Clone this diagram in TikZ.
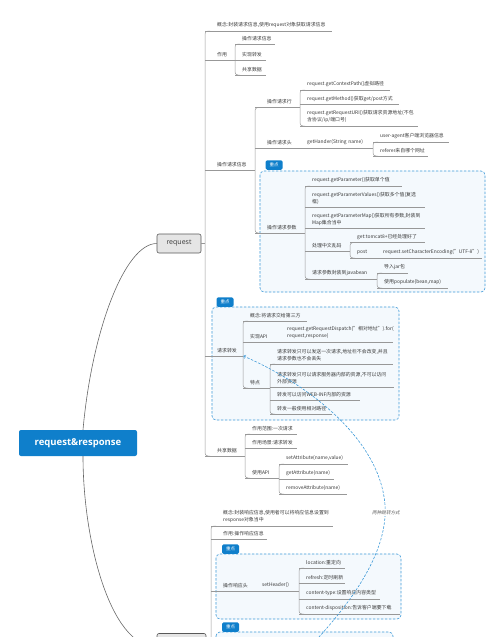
\documentclass[tikz,border=0pt]{standalone}
\usepackage{fontspec}
\setmainfont{Noto Sans CJK SC}
\newfontfamily\hdfont{Open Sans}
\newfontfamily\slfont[FakeSlant=0.2]{Noto Sans CJK SC}
\definecolor{ink}{HTML}{3A3A3A}
\definecolor{linegray}{HTML}{989898}
\definecolor{mapblue}{HTML}{0F7FCB}
\definecolor{boxblue}{HTML}{3C99D8}
\definecolor{boxfill}{HTML}{F4F9FD}
\tikzset{
  topic/.style={anchor=south west,align=left,text width=#1pt,inner xsep=7pt,inner ysep=3pt,text=ink,
    font=\fontsize{4.9}{7}\selectfont,
    execute at begin node={\hyphenpenalty=10000\relax\exhyphenpenalty=10000\relax}},
  ind/.style={inner xsep=12pt},
  link/.style={draw=linegray,line width=0.5pt},
  branch/.style={draw=black!65,fill=black!10,rounded corners=2pt,line width=0.6pt,inner sep=0pt,
    minimum height=19pt,text=ink,font=\hdfont\fontsize{7}{8}\selectfont},
  keybox/.style={draw=boxblue,dash pattern=on 2.5pt off 1.5pt,line width=0.6pt,fill=boxfill,rounded corners=4pt},
  keytag/.style={fill=mapblue,text=white,rounded corners=1.5pt,inner sep=0pt,minimum width=17pt,minimum height=9.5pt,
    font=\fontsize{4.5}{5}\selectfont},
  relation/.style={draw=boxblue,dash pattern=on 2.5pt off 1.5pt,line width=0.6pt,->}
}
\begin{document}
\begin{tikzpicture}[x=1pt,y=-1pt]
\useasboundingbox (0,0) rectangle (500,637);
\draw[keybox] (260,171) rectangle (485,292);
\draw[keybox] (212,307) rectangle (399,420);
\draw[keybox] (216,554) rectangle (401,619);
\draw[keybox] (216,632) rectangle (393,700);
\node[keytag] (tagParam) at (274,165) {重点};
\node[keytag] (tagFwd) at (225,302) {重点};
\node[keytag] (tagHead) at (230.5,549) {重点};
\node[keytag] (tagNext) at (230.5,627) {重点};

\node[fill=mapblue,rounded corners=2pt,minimum width=118pt,minimum height=26pt,text=white,
  font=\hdfont\bfseries\fontsize{9.5}{11}\selectfont] (root) at (78,443) {request\&response};
\node[branch,minimum width=44pt] (req) at (179,243.5) {request};
\node[branch,minimum width=49pt,minimum height=27pt] (rsp) at (181.5,647) {response};

\node[topic=103,ind] (rqIdea) at (205,31) {概念:封装请求信息,使用request对象获取请求信息};
\node[topic=6,ind] (rqUse) at (205,60.5) {作用};
\node[topic=26,ind] (rqOp) at (205,170) {操作请求信息};
\node[topic=14,ind] (rqFwd) at (205,356) {请求转发};
\node[topic=16,ind] (rqShare) at (205,456) {共享数据};

\node[topic=26] (rqUseA) at (235,44) {操作请求信息};
\node[topic=17] (rqUseB) at (235,60.5) {实现转发};
\node[topic=17] (rqUseC) at (235,75) {共享数据};

\node[topic=21,ind] (rqLine) at (255,107.5) {操作请求行};
\node[topic=21,ind] (rqHead) at (255,148) {操作请求头};
\node[topic=26,ind] (rqParam) at (255,233) {操作请求参数};

\node[topic=76] (rqPath) at (300,90) {request.getContextPath()虚拟路径};
\node[topic=85] (rqMethod) at (300,104.5) {request.getMethod()获取get/post方式};
\node[topic=104] (rqURI) at (300,126) {request.getRequestURI()获取请求资源地址(不包\\含协议/ip/端口号)};
\node[topic=59] (rqHeadGet) at (300,148) {getHander(String~name)};
\node[topic=62] (rqAgent) at (373,142) {user-agent客户端浏览器信息};
\node[topic=41] (rqRef) at (373,156) {referer来自哪个网址};

\node[topic=83] (rqP1) at (305,186) {request.getParameter()获取单个值};
\node[topic=106] (rqP2) at (305,207.5) {request.getParameterValues()获取多个值(复选\\框)};
\node[topic=106] (rqP3) at (305,228.5) {request.getParameterMap()获取所有参数,封装到\\Map集合当中};
\node[topic=31] (rqCode) at (305,251) {处理中文乱码};
\node[topic=58] (rqBean) at (305,279) {请求参数封装到javabean};
\node[topic=61] (rqGet) at (350,242.5) {get:tomcat8+已经处理好了};
\node[topic=12] (rqPost) at (350,258) {post};
\node[topic=92] (rqEnc) at (376,258) {request.setCharacterEncoding("UTF-8")};
\node[topic=17] (rqJar) at (377,273) {导入jar包};
\node[topic=57] (rqPop) at (377,288) {使用populate(bean,map)};

\node[topic=50] (fwdIdea) at (243,321) {概念:将请求交给第三方};
\node[topic=23] (fwdApi) at (243,342) {实现API};
\node[topic=99] (fwdApiTxt) at (280,342) {request.getRequestDispatch("相对地址").for(\\request,response)};
\node[topic=13] (fwdChar) at (243,388) {特点};
\node[topic=109] (fwdC1) at (270,364) {请求转发只可以发送一次请求,地址栏不会改变,并且\\请求参数也不会丢失};
\node[topic=110] (fwdC2) at (270,387.5) {请求转发只可以请求服务器内部的资源,不可以访问\\外部资源};
\node[topic=76] (fwdC3) at (270,400.5) {转发可以访问WEB-INF内部的资源};
\node[topic=48] (fwdC4) at (270,414) {转发一般使用相对路径};

\node[topic=38] (shA) at (245,434) {作用范围:一次请求};
\node[topic=38] (shB) at (245,448) {作用场景:请求转发};
\node[topic=20] (shApi) at (245,478) {使用API};
\node[topic=55] (shSet) at (279,464) {setAttribute(name,value)};
\node[topic=41] (shGet) at (279,479) {getAttribute(name)};
\node[topic=54] (shRem) at (279,494) {removeAttribute(name)};

\node[topic=98,ind] (rsIdea) at (211,526) {概念:封装响应信息,使用者可以将响应信息设置到\\response对象当中};
\node[topic=32,ind] (rsUse) at (211,539) {作用:操作响应信息};
\node[topic=20,ind] (rsHead) at (211,591) {操作响应头};
\node[topic=30] (rsSet) at (255,591) {setHeader()};
\node[topic=32] (rsLoc) at (299,568) {location:重定向};
\node[topic=32] (rsRefr) at (299,583) {refresh:定时刷新};
\node[topic=67] (rsType) at (299,599) {content-type:设置响应内容类型};
\node[topic=87] (rsDisp) at (299,614) {content-disposition:告诉客户端要下载};
\coordinate (rsEnd) at (211,700);
\coordinate (rsTarget) at (305,652);

\foreach \n in {rqIdea,rqUse,rqOp,rqFwd,rqShare,rqUseA,rqUseB,rqUseC,rqLine,rqHead,rqParam,rqPath,rqMethod,rqURI,
  rqHeadGet,rqAgent,rqRef,rqP1,rqP2,rqP3,rqCode,rqBean,rqGet,rqPost,rqEnc,rqJar,rqPop,fwdIdea,fwdApi,fwdApiTxt,
  fwdChar,fwdC1,fwdC2,fwdC3,fwdC4,shA,shB,shApi,shSet,shGet,shRem,rsIdea,rsUse,rsHead,rsSet,rsLoc,rsRefr,rsType,rsDisp}
  \draw[link] (\n.south west) -- (\n.south east);
\foreach \a/\b in {rqIdea/rqShare,rqUseA/rqUseC,rqLine/rqParam,rqPath/rqURI,rqAgent/rqRef,rqP1/rqBean,rqGet/rqPost,
  rqJar/rqPop,fwdIdea/fwdChar,fwdC1/fwdC4,shA/shApi,shSet/shRem,rsLoc/rsDisp}
  \draw[link,rounded corners=3pt] ([xshift=5pt]\a.south west) -- (\a.south west) -- (\b.south west) -- ([xshift=5pt]\b.south west);
\draw[link,rounded corners=3pt] ([xshift=5pt]rsIdea.south west) -- (rsIdea.south west) -- (rsEnd);
\draw[link] (req.east) -- (req.east -| rqIdea.south west);

\draw[black!60,line width=0.6pt] ([xshift=5pt]root.north) .. controls (92,330) and (125,243.5) .. (req.west);
\draw[black!60,line width=0.6pt] ([xshift=5pt]root.south) .. controls (83,540) and (110,647) .. (rsp.west);

\draw[relation] (rsTarget) .. controls (355,600) and (388,550) .. (385,505) .. controls (380,440) and (310,385) .. (rqFwd.south east);
\node[fill=white,inner sep=0.5pt,text=ink!80,font=\slfont\fontsize{4.6}{6}\selectfont] (relLbl) at (386,513) {两种跳转方式};
\end{tikzpicture}
\end{document}
